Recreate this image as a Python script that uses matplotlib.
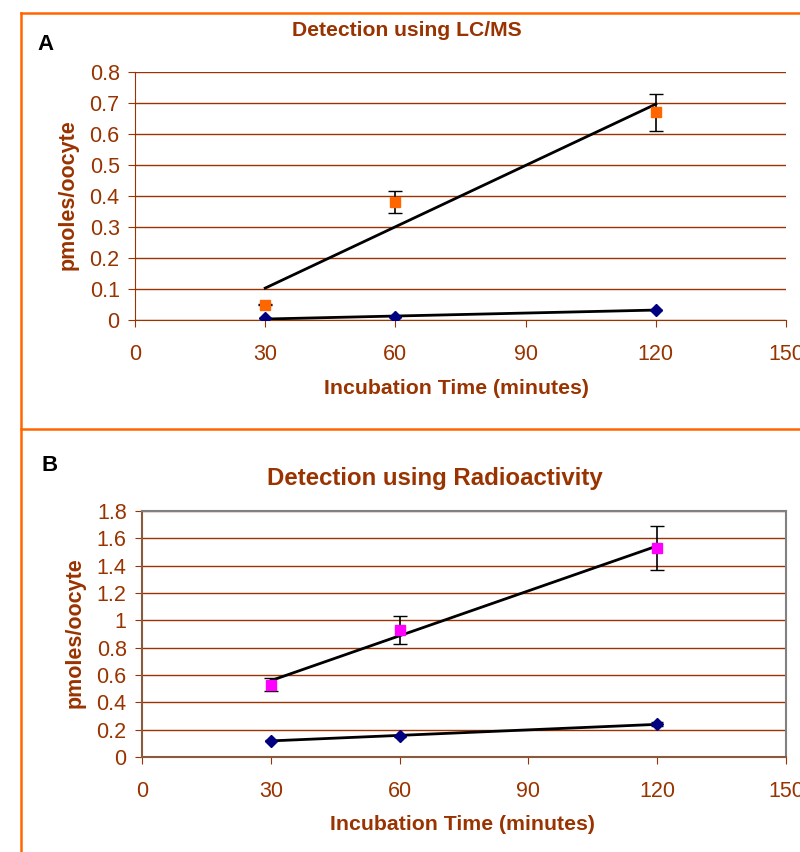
import numpy as np
import matplotlib.pyplot as plt
from matplotlib.lines import Line2D

plt.rcParams['font.family'] = ['Liberation Sans', 'DejaVu Sans']

# Данные
time = [30, 60, 120]

lcms_treated = [0.05, 0.38, 0.67]
lcms_treated_err = [0.003, 0.035, 0.06]
lcms_control = [0.005, 0.01, 0.033]
lcms_control_err = [0.0, 0.0, 0.0]

radio_treated = [0.53, 0.93, 1.53]
radio_treated_err = [0.05, 0.10, 0.16]
radio_control = [0.12, 0.155, 0.24]
radio_control_err = [0.005, 0.008, 0.015]

brown = '#993300'
W, H = 800, 852


def px(x, y):
    # пиксели -> координаты фигуры
    return x / W, 1 - y / H


def trend(ax, x, y):
    # линейная линия тренда как в Excel
    k, b = np.polyfit(x, y, 1)
    xs = np.array([min(x), max(x)])
    ax.plot(xs, k * xs + b, color='black', lw=2, zorder=4)


def panel(rect, treated, t_err, control, c_err, color, ymax, ystep, boxed):
    ax = fig.add_axes(rect)
    ax.set_xlim(0, 150)
    ax.set_ylim(0, ymax)
    ax.set_xticks(range(0, 151, 30))
    ax.set_yticks(np.arange(0, ymax + 1e-9, ystep))
    ax.yaxis.set_major_formatter(plt.FuncFormatter(lambda v, p: f'{v:g}'))
    ax.grid(axis='y', color=brown, lw=1)
    ax.set_axisbelow(True)
    ax.tick_params(colors=brown, labelsize=15.5, length=5)
    ax.tick_params(axis='x', pad=12)
    ax.tick_params(axis='y', pad=6)
    for s in ax.spines.values():
        s.set_color(brown)
    if boxed:
        ax.spines['top'].set_color('#808080')
        ax.spines['right'].set_color('#808080')
        ax.spines['left'].set_color('#8B5A3C')
        ax.spines['bottom'].set_color('#8B5A3C')
        for s in ax.spines.values():
            s.set_linewidth(1.5)
    else:
        ax.spines['top'].set_visible(False)
        ax.spines['right'].set_visible(False)

    ax.errorbar(time, control, yerr=c_err, fmt='D', color='#000080',
                ms=6, ecolor='black', elinewidth=1, capsize=4.5, zorder=5)
    ax.errorbar(time, treated, yerr=t_err, fmt='s', color=color,
                ms=7.5, ecolor='black', elinewidth=1.2, capsize=5, zorder=5)
    trend(ax, time, treated)
    trend(ax, time, control)
    return ax


fig = plt.figure(figsize=(8, 8.52), dpi=100)

# Рамки панелей
for (x0, y0), (x1, y1) in [((21, 13), (800, 13)), ((21, 13), (21, 852)),
                           ((21, 429), (800, 429))]:
    a, b = px(x0, y0)
    c, d = px(x1, y1)
    fig.add_artist(Line2D([a, c], [b, d], color='#FF6600', lw=1.8))

# Панель A
l, b = px(135, 320)
panel([l, b, (786 - 135) / W, (320 - 72) / H], lcms_treated, lcms_treated_err,
      lcms_control, lcms_control_err, '#FF6600', 0.8, 0.1, False)

# Панель B
l, b = px(142, 757)
panel([l, b, (786 - 142) / W, (757 - 511) / H], radio_treated, radio_treated_err,
      radio_control, radio_control_err, '#FF00FF', 1.8, 0.2, True)

# Подписи
txt = dict(color=brown, weight='bold', ha='center', va='center')
fig.text(*px(407, 30), 'Detection using LC/MS', fontsize=15.2, **txt)
fig.text(*px(435, 479), 'Detection using Radioactivity', fontsize=17.3, **txt)
fig.text(*px(456, 389), 'Incubation Time (minutes)', fontsize=15.3, **txt)
fig.text(*px(462, 825), 'Incubation Time (minutes)', fontsize=15.3, **txt)
fig.text(*px(68, 195), 'pmoles/oocyte', fontsize=15.5, rotation=90, **txt)
fig.text(*px(75, 633), 'pmoles/oocyte', fontsize=15.5, rotation=90, **txt)
fig.text(*px(46, 45), 'A', fontsize=16, weight='bold', ha='center', va='center')
fig.text(*px(50, 465), 'B', fontsize=16, weight='bold', ha='center', va='center')

fig.savefig('out.png', dpi=100)
